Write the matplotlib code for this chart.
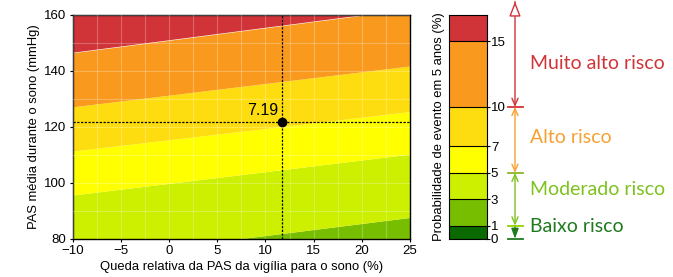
import matplotlib
matplotlib.use("Agg")
import matplotlib.pyplot as plt
from matplotlib.patches import FancyArrowPatch

plt.rcParams['font.family'] = ['Liberation Sans', 'DejaVu Sans']

# ---- data ----
x_range = [-10, 25]
# contour boundary lines (probability level -> SBP at x=-10 and x=25)
bnd_levels = [1, 3, 5, 7, 10, 15]
bnd_left = [50.0, 72.5, 95.6, 111.3, 127.1, 146.4]
bnd_right = [65.0, 87.6, 110.2, 125.4, 141.7, 162.0]
band_colors = ['#0A6A00', '#78BE00', '#CCF000', '#FFFF00', '#FEDD10', '#F99A1E', '#D03438']
cb_levels = [0, 1, 3, 5, 7, 10, 15, 17]
cb_ticks = [0, 1, 3, 5, 7, 10, 15]
point_x, point_y, point_label = 11.7, 121.5, '7.19'
x_ticks = [-10, -5, 0, 5, 10, 15, 20, 25]
y_ticks = [80, 100, 120, 140, 160]

risk_labels = ['Muito alto risco', 'Alto risco', 'Moderado risco', 'Baixo risco']
risk_bounds = [(10, 18), (5, 10), (1, 5), (0, 1)]
risk_text_y = [13.3, 7.65, 3.75, 0.95]
risk_colors = ['#D13438', '#F7A032', '#7DC21E', '#1E7A1E']
mark_levels = [10, 5, 1, 0]
mark_colors = ['#D13438', '#8DB52A', '#92D400', '#1E7A1E']

W, H = 673, 277
fig = plt.figure(figsize=(W / 100, H / 100), dpi=100)

def rect(x0, y0, x1, y1):
    return [x0 / W, 1 - y1 / H, (x1 - x0) / W, (y1 - y0) / H]

ax = fig.add_axes(rect(72.7, 14.7, 410, 238.7))
lows = [0] + bnd_left
lows_r = [0] + bnd_right
highs = bnd_left + [300]
highs_r = bnd_right + [300]
for i, c in enumerate(band_colors):
    ax.fill_between(x_range, [lows[i], lows_r[i]], [highs[i], highs_r[i]],
                    color=c, linewidth=0, zorder=1)
ax.set_xlim(x_range)
ax.set_ylim(80, 160)
ax.set_xticks(x_ticks)
ax.set_yticks(y_ticks)
ax.set_xticks([-7.5, -2.5, 2.5, 7.5, 12.5, 17.5, 22.5], minor=True)
ax.set_yticks([90, 110, 130, 150], minor=True)
ax.grid(True, which='both', color='white', alpha=0.25, linewidth=0.8, zorder=2)
ax.set_axisbelow(False)
ax.tick_params(labelsize=9.5, length=2, width=0.8, pad=2.5, direction='out')
ax.tick_params(which='minor', length=0)
for s in ax.spines.values():
    s.set_linewidth(1.0)
ax.axvline(point_x, color='black', linestyle=(0, (1.8, 1.2)), linewidth=0.9, zorder=3)
ax.axhline(point_y, color='black', linestyle=(0, (1.8, 1.2)), linewidth=0.9, zorder=3)
ax.plot([point_x], [point_y], 'o', color='black', markersize=6, zorder=4)
ax.text(point_x - 0.4, point_y + 1.5, point_label, ha='right', va='bottom', fontsize=11.5, zorder=4)
ax.set_xlabel('Queda relativa da PAS da vigília para o sono (%)', fontsize=9.4, labelpad=3)
ax.set_ylabel('PAS média durante o sono (mmHg)', fontsize=9.4, labelpad=3)

# colorbar
cax = fig.add_axes(rect(449.3, 14.7, 486.7, 238.7))
cb_colors = band_colors
for i in range(len(cb_levels) - 1):
    cax.fill_between([0, 1], cb_levels[i], cb_levels[i + 1], color=cb_colors[i], linewidth=0)
    cax.axhline(cb_levels[i], color='black', linewidth=0.8)
cax.set_xlim(0, 1)
cax.set_ylim(0, 17)
cax.set_xticks([])
cax.set_yticks(cb_ticks)
cax.yaxis.tick_right()
cax.tick_params(labelsize=9.5, length=2, pad=1)
cax.set_ylabel('Probabilidade de evento em 5 anos (%)', fontsize=9.4, labelpad=3)
cax.yaxis.set_label_position('left')

# annotation axes
aax = fig.add_axes(rect(495, 14.7, 673, 238.7))
aax.set_xlim(495, 673)
aax.set_ylim(0, 17)
aax.axis('off')
ax_x = 515
for k, ((lo, hi), c) in enumerate(zip(risk_bounds, risk_colors)):
    if k == 0:
        style = '->,head_length=5,head_width=2.2'
        p0, p1 = (ax_x, hi), (ax_x, lo)
    elif k == len(risk_bounds) - 1:
        style = '-|>,head_length=6,head_width=2.2'
        p0, p1 = (ax_x, hi), (ax_x, lo)
    else:
        style = '<->,head_length=5,head_width=2.2'
        p0, p1 = (ax_x, lo), (ax_x, hi)
    arr = FancyArrowPatch(p0, p1, arrowstyle=style,
                          color=c, linewidth=1.0, shrinkA=0, shrinkB=0, clip_on=False,
                          mutation_scale=1)
    aax.add_patch(arr)
for lv, c in zip(mark_levels, mark_colors):
    aax.plot([508, 523], [lv, lv], color=c, linewidth=1.3, clip_on=False, zorder=4)
# hollow top arrowhead
top = FancyArrowPatch((ax_x, 17.2), (ax_x, 18.0), arrowstyle='-|>,head_length=9,head_width=3.5',
                      facecolor='white', edgecolor=risk_colors[0], linewidth=1.0,
                      shrinkA=0, shrinkB=0, clip_on=False, mutation_scale=1, zorder=5)
aax.add_patch(top)
for lab, ty, c in zip(risk_labels, risk_text_y, risk_colors):
    aax.text(530, ty, lab, color=c, fontsize=14, family=['Lato', 'DejaVu Sans'],
             ha='left', va='center', clip_on=False)

fig.savefig('out.png', dpi=100)
